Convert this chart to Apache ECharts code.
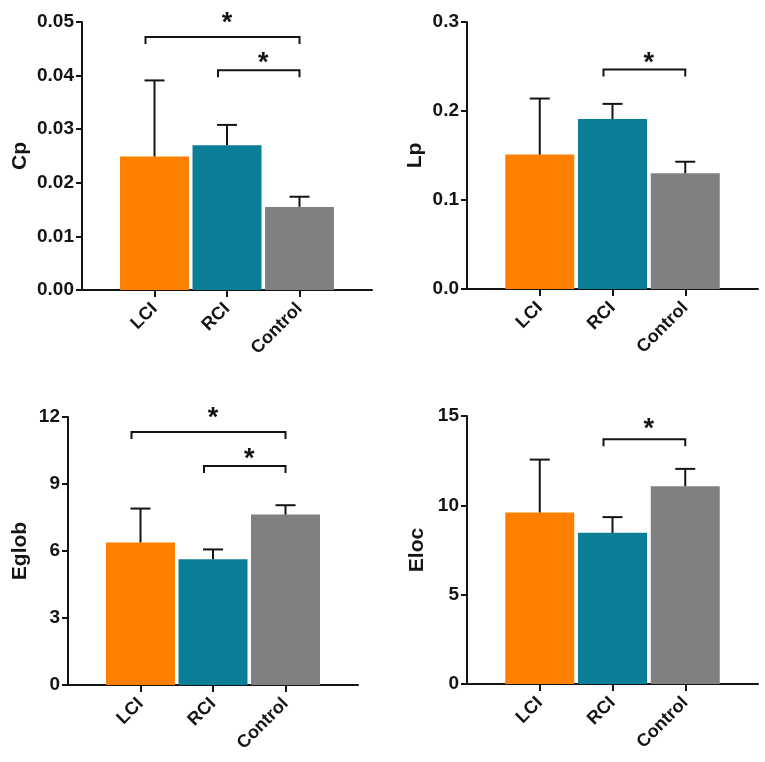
<!DOCTYPE html>
<html>
<head>
<meta charset="utf-8">
<script src="https://cdn.jsdelivr.net/npm/echarts@6/dist/echarts.min.js"></script>
<style>
  html, body { margin: 0; padding: 0; background: #fff; }
  #main { width: 765px; height: 762px; }
</style>
</head>
<body>
<div id="main"></div>
<script>
// groups on the x axis
var categories = ["LCI", "RCI", "Control"];
var colors = ["#FF8000", "#0A7E96", "#808080"];

// means and upper error (SEM) per panel
var cpMean = [0.0249, 0.0270, 0.0155];
var cpErr = [0.0142, 0.0038, 0.0019];
var lpMean = [0.151, 0.191, 0.130];
var lpErr = [0.063, 0.017, 0.013];
var eglobMean = [6.38, 5.63, 7.63];
var eglobErr = [1.52, 0.44, 0.42];
var elocMean = [9.60, 8.46, 11.07];
var elocErr = [2.96, 0.88, 0.97];

// significance brackets: [from group, to group, bracket level, star level]
var cpSig = [[0, 2, 0.0472, 0.0508], [1, 2, 0.0410, 0.0433]];
var lpSig = [[1, 2, 0.2466, 0.2595]];
var eglobSig = [[0, 2, 11.33, 12.18], [1, 2, 9.81, 10.35]];
var elocSig = [[1, 2, 13.70, 14.60]];

var panels = [
  { name: "Cp", mean: cpMean, err: cpErr, sig: cpSig, max: 0.05, step: 0.01, digits: 2, gap: 51,
    grid: { left: 82, top: 22, width: 290, height: 268 } },
  { name: "Lp", mean: lpMean, err: lpErr, sig: lpSig, max: 0.3, step: 0.1, digits: 1, gap: 41,
    grid: { left: 467, top: 22, width: 291, height: 267 } },
  { name: "Eglob", mean: eglobMean, err: eglobErr, sig: eglobSig, max: 12, step: 3, digits: 0, gap: 37,
    grid: { left: 68, top: 417, width: 290, height: 268 } },
  { name: "Eloc", mean: elocMean, err: elocErr, sig: elocSig, max: 15, step: 5, digits: 0, gap: 39,
    grid: { left: 467, top: 416, width: 291, height: 268 } }
];

var font = "Liberation Sans, Arial, sans-serif";
var ink = "#141414";
var axisData = [""].concat(categories, [""]);

var grids = [], xAxes = [], yAxes = [], series = [];

panels.forEach(function (p, k) {
  grids.push(p.grid);
  xAxes.push({
    type: "category",
    gridIndex: k,
    data: axisData,
    boundaryGap: false,
    axisLine: { lineStyle: { color: ink, width: 2 } },
    axisTick: {
      length: 7,
      lineStyle: { color: ink, width: 2 },
      interval: function (i) { return i > 0 && i <= categories.length; }
    },
    axisLabel: {
      rotate: 45,
      margin: 16,
      color: ink,
      fontFamily: font,
      fontWeight: "bold",
      fontSize: 18,
      interval: 0
    },
    splitLine: { show: false }
  });
  yAxes.push({
    type: "value",
    gridIndex: k,
    min: 0,
    max: p.max,
    interval: p.step,
    name: p.name,
    nameLocation: "middle",
    nameGap: p.gap,
    nameTextStyle: { color: ink, fontFamily: font, fontWeight: "bold", fontSize: 21 },
    axisLine: { show: true, lineStyle: { color: ink, width: 2 } },
    axisTick: { show: true, length: 6, lineStyle: { color: ink, width: 2 } },
    axisLabel: {
      margin: 8,
      color: ink,
      fontFamily: font,
      fontWeight: "bold",
      fontSize: 19,
      formatter: function (v) { return v.toFixed(p.digits); }
    },
    splitLine: { show: false }
  });

  // bars
  series.push({
    type: "bar",
    xAxisIndex: k,
    yAxisIndex: k,
    barWidth: 69,
    data: p.mean.map(function (v, i) {
      return { value: [i + 1, v], itemStyle: { color: colors[i] } };
    }),
    silent: true,
    z: 2
  });

  // error bars (upper only)
  series.push({
    type: "custom",
    xAxisIndex: k,
    yAxisIndex: k,
    silent: true,
    z: 3,
    data: p.mean.map(function (v, i) { return [i + 1, v, v + p.err[i]]; }),
    renderItem: function (params, api) {
      var base = api.coord([api.value(0), api.value(1)]);
      var top = api.coord([api.value(0), api.value(2)]);
      var st = { stroke: ink, lineWidth: 2 };
      return {
        type: "group",
        children: [
          { type: "line", shape: { x1: base[0], y1: base[1], x2: top[0], y2: top[1] }, style: st },
          { type: "line", shape: { x1: top[0] - 10, y1: top[1], x2: top[0] + 10, y2: top[1] }, style: st }
        ]
      };
    }
  });

  // significance brackets with stars
  series.push({
    type: "custom",
    xAxisIndex: k,
    yAxisIndex: k,
    silent: true,
    clip: false,
    z: 4,
    data: p.sig.map(function (s) { return [s[0] + 1, s[1] + 1, s[2], s[3]]; }),
    renderItem: function (params, api) {
      var a = api.coord([api.value(0), api.value(2)]);
      var b = api.coord([api.value(1), api.value(2)]);
      var star = api.coord([api.value(0), api.value(3)]);
      var x1 = a[0] - 9, x2 = b[0], y = a[1];
      var st = { stroke: ink, lineWidth: 2, fill: null };
      return {
        type: "group",
        children: [
          { type: "polyline", shape: { points: [[x1, y + 7], [x1, y], [x2, y], [x2, y + 7]] }, style: st },
          {
            type: "text",
            style: {
              text: "*",
              x: (a[0] + b[0]) / 2,
              y: star[1] + 6,
              align: "center",
              verticalAlign: "middle",
              fill: ink,
              font: "bold 27px " + font
            }
          }
        ]
      };
    }
  });
});

var chart = echarts.init(document.getElementById("main"));
chart.setOption({
  backgroundColor: "#ffffff",
  animation: false,
  grid: grids,
  xAxis: xAxes,
  yAxis: yAxes,
  series: series
});
</script>
</body>
</html>
